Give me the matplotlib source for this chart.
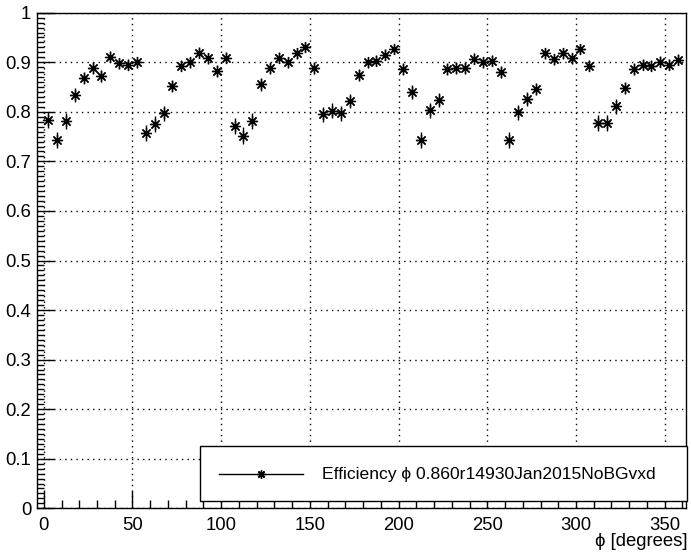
import matplotlib
matplotlib.use("Agg")
import matplotlib.pyplot as plt
from matplotlib.ticker import MultipleLocator, FixedLocator
from matplotlib.patches import Rectangle
from matplotlib.lines import Line2D

plt.rcParams['font.family'] = ['Liberation Sans', 'DejaVu Sans']

# phi bin centres (degrees) and efficiency per bin
phi = [2.5 + 5 * i for i in range(72)]
efficiency = [
    0.783, 0.743, 0.782, 0.834, 0.869, 0.888, 0.872, 0.911, 0.898, 0.895, 0.900, 0.758,
    0.775, 0.797, 0.852, 0.893, 0.900, 0.919, 0.908, 0.883, 0.909, 0.771, 0.752, 0.781,
    0.856, 0.889, 0.909, 0.900, 0.918, 0.930, 0.889, 0.795, 0.802, 0.797, 0.822, 0.875,
    0.900, 0.903, 0.915, 0.927, 0.886, 0.840, 0.743, 0.803, 0.824, 0.886, 0.888, 0.888,
    0.907, 0.900, 0.903, 0.880, 0.743, 0.799, 0.826, 0.846, 0.918, 0.906, 0.918, 0.908,
    0.927, 0.893, 0.777, 0.777, 0.811, 0.848, 0.886, 0.895, 0.893, 0.901, 0.895, 0.905,
]
eff_err = [
    0.016, 0.017, 0.016, 0.014, 0.012, 0.012, 0.012, 0.011, 0.011, 0.011, 0.011, 0.016,
    0.016, 0.015, 0.013, 0.011, 0.011, 0.011, 0.011, 0.012, 0.011, 0.016, 0.017, 0.016,
    0.013, 0.012, 0.011, 0.011, 0.011, 0.010, 0.012, 0.015, 0.015, 0.015, 0.014, 0.012,
    0.011, 0.011, 0.011, 0.010, 0.012, 0.014, 0.017, 0.015, 0.014, 0.012, 0.012, 0.012,
    0.011, 0.011, 0.011, 0.012, 0.017, 0.015, 0.014, 0.013, 0.011, 0.011, 0.011, 0.011,
    0.010, 0.011, 0.016, 0.016, 0.015, 0.013, 0.012, 0.011, 0.011, 0.011, 0.011, 0.011,
]
phi_halfwidth = [2.5] * len(phi)

y_ticks = [0, 0.1, 0.2, 0.3, 0.4, 0.5, 0.6, 0.7, 0.8, 0.9, 1.0]
y_ticklabels = ["0", "0.1", "0.2", "0.3", "0.4", "0.5", "0.6", "0.7", "0.8", "0.9", "1"]
x_ticks = [0, 50, 100, 150, 200, 250, 300, 350]
legend_label = "Efficiency \u03d5 0.860r14930Jan2015NoBGvxd"
x_title = "\u03d5 [degrees]"

W, H = 691, 552
fig = plt.figure(figsize=(W / 100, H / 100), dpi=100)
L, R, T, B = 36.7, 686.0, 12.7, 508.3
ax = fig.add_axes([L / W, 1 - B / H, (R - L) / W, (B - T) / H])

star = (8, 2, 0)
ax.errorbar(phi, efficiency, yerr=eff_err, xerr=phi_halfwidth, fmt='none',
            ecolor='black', elinewidth=1.0, capsize=0, zorder=3)
ax.plot(phi, efficiency, linestyle='none', marker=star, markersize=8,
        markeredgewidth=0.9, color='black', zorder=4)

ax.set_xlim(-4, 362)
ax.set_ylim(0, 1)
ax.xaxis.set_major_locator(FixedLocator(x_ticks))
ax.xaxis.set_minor_locator(MultipleLocator(10))
ax.yaxis.set_major_locator(FixedLocator(y_ticks))
ax.set_yticklabels(y_ticklabels)
ax.yaxis.set_minor_locator(MultipleLocator(0.01))

ax.tick_params(which='both', direction='in', top=False, right=False,
               labelsize=13.3, width=1.0, color='black')
ax.tick_params(axis='x', which='major', length=12, pad=6)
ax.tick_params(axis='x', which='minor', length=6)
ax.tick_params(axis='y', which='major', length=12, pad=4)
ax.tick_params(axis='y', which='minor', length=5)

ax.grid(True, which='major', color='black', linestyle=(0, (1, 3)), linewidth=1.0)
for s in ax.spines.values():
    s.set_linewidth(1.0)

# legend box
box = Rectangle((200 / W, 1 - 501 / H), 486.7 / W, 55 / H, transform=fig.transFigure,
                facecolor='white', edgecolor='black', linewidth=1.0, zorder=10)
fig.patches.append(box)
ly = 1 - 474.3 / H
fig.lines.append(Line2D([219.3 / W, 303.3 / W], [ly, ly], transform=fig.transFigure,
                        color='black', linewidth=1.0, zorder=11))
fig.lines.append(Line2D([260.7 / W], [ly], transform=fig.transFigure, marker=star,
                        markersize=6, markeredgewidth=1.0, color='black', zorder=11))
fig.text(322.3 / W, ly, legend_label, fontsize=12.6, va='center', ha='left', zorder=12)

fig.text(688 / W, 1 - 541.5 / H, x_title, fontsize=13.3, ha='right', va='center')

fig.savefig("out.png", dpi=100)
